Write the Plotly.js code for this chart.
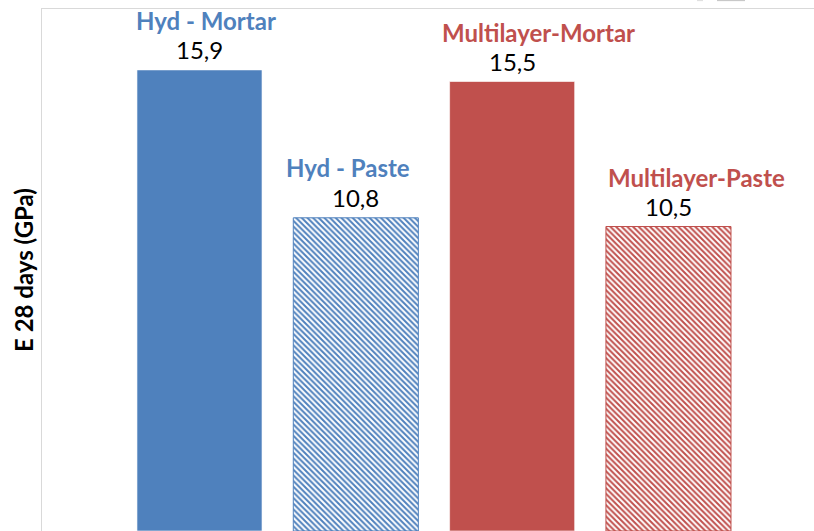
<!DOCTYPE html>
<html>
<head>
<meta charset="utf-8">
<script src="https://cdn.plot.ly/plotly-3.0.1.min.js"></script>
<style>html,body{margin:0;padding:0;background:#fff;}#chart{width:814px;height:531px;}</style>
</head>
<body>
<div id="chart"></div>
<script>
// ---- data ----
const categories = ["Hyd - Mortar", "Hyd - Paste", "Multilayer-Mortar", "Multilayer-Paste"];
const values = [15.9, 10.8, 15.5, 10.5];
const yTitle = "E 28 days (GPa)";

// ---- styles ----
const BLUE = "#4F81BD", RED = "#C0504D";
const barColors = [BLUE, BLUE, RED, RED];
const patterned = [false, true, false, true];
const catShiftX = [6, -8, 26, 28];
const catShiftY = [49, 50, 49, 49];

// one trace per bar so each can carry its own colour / pattern
const traces = categories.map((c, i) => ({
  type: "bar",
  x: [c],
  y: [values[i]],
  width: 0.8,
  marker: patterned[i] ? {
    color: "#ffffff",
    line: {color: barColors[i], width: 1},
    pattern: {shape: "\\", fgcolor: barColors[i], bgcolor: "#ffffff", size: 4, solidity: 0.5, fillmode: "replace"}
  } : {
    color: barColors[i],
    line: {color: "rgba(255,255,255,0.6)", width: 1}
  },
  hoverinfo: "skip"
}));

const FONT = "Lato, 'Open Sans', sans-serif";
const annotations = [];
categories.forEach((c, i) => {
  annotations.push({
    x: c, y: values[i], xref: "x", yref: "y",
    text: values[i].toFixed(1).replace(".", ","),
    showarrow: false, yanchor: "middle", yshift: 20,
    font: {family: FONT, size: 24, color: "#000000"}
  });
  annotations.push({
    x: c, y: values[i], xref: "x", yref: "y",
    text: "<b>" + c + "</b>",
    showarrow: false, yanchor: "middle", yshift: catShiftY[i], xshift: catShiftX[i],
    font: {family: FONT, size: 24, color: barColors[i]}
  });
});

const layout = {
  width: 814, height: 531,
  margin: {l: 42, r: 0, t: 9, b: 0, pad: 0},
  paper_bgcolor: "#ffffff", plot_bgcolor: "#ffffff",
  showlegend: false,
  barmode: "overlay",
  xaxis: {
    type: "category",
    categoryorder: "array", categoryarray: categories,
    range: [-1.0075, 3.931],
    showticklabels: false, ticks: "",
    showgrid: false, zeroline: false,
    showline: true, mirror: true, linecolor: "#D9D9D9", linewidth: 1
  },
  yaxis: {
    range: [0, 18],
    showticklabels: false, ticks: "",
    showgrid: false, zeroline: false,
    showline: true, linecolor: "#D9D9D9", linewidth: 1,
    title: {text: "<b>" + yTitle + "</b>", standoff: 0,
      font: {family: FONT, size: 24, color: "#000000"}}
  },
  annotations: annotations,
  shapes: [
    {type: "line", xref: "paper", yref: "paper", x0: (717-42)/772, x1: (745-42)/772, y0: 1.017, y1: 1.017,
     line: {color: "#C8C8C8", width: 2}},
    {type: "line", xref: "paper", yref: "paper", x0: (697-42)/772, x1: (703-42)/772, y0: 1.017, y1: 1.017,
     line: {color: "#E0E0E0", width: 2}}
  ]
};

Plotly.newPlot("chart", traces, layout, {staticPlot: true, displayModeBar: false});
</script>
</body>
</html>
